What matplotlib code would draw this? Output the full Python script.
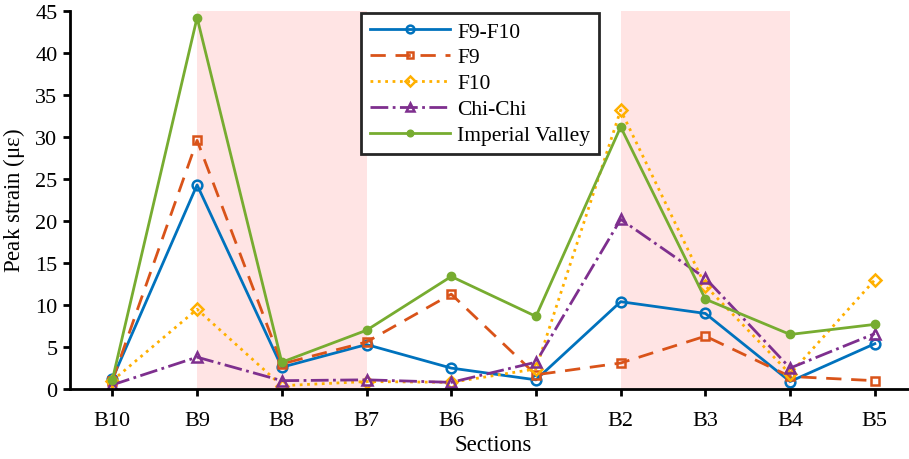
import numpy as np
import matplotlib.pyplot as plt

plt.rcParams['font.family'] = ['Liberation Serif', 'DejaVu Serif']
plt.rcParams['mathtext.fontset'] = 'stix'

# sections along the tunnel
sections = ['B10', 'B9', 'B8', 'B7', 'B6', 'B1', 'B2', 'B3', 'B4', 'B5']

# peak strain for each case
f9_f10 = [1.2, 24.3, 2.6, 5.3, 2.5, 1.1, 10.4, 9.0, 0.9, 5.4]
f9 = [1.0, 29.6, 3.0, 5.6, 11.3, 1.7, 3.1, 6.3, 1.5, 1.0]
f10 = [1.0, 9.5, 0.4, 0.9, 0.8, 2.4, 33.2, 12.3, 1.8, 13.0]
chichi = [0.5, 3.8, 1.0, 1.1, 0.8, 3.2, 20.2, 13.2, 2.5, 6.6]
imperial = [1.1, 44.2, 3.2, 7.0, 13.4, 8.65, 31.2, 10.7, 6.5, 7.7]

# shaded ranges (by section index)
shade = [(1, 3), (6, 8)]

x = np.arange(len(sections))

fig = plt.figure(figsize=(9.09, 4.6), dpi=100)
ax = fig.add_axes([0.077, 0.152, 0.932, 0.822])

for a, b in shade:
    ax.axvspan(a, b, color='#FFE4E4', lw=0, zorder=0)

lw = 2.0
ax.plot(x, f9_f10, '-', marker='o', color='#0072BD', lw=lw, ms=7, mfc='none', mew=1.8, label='F9-F10')
ax.plot(x, f9, '--', marker='s', color='#D95319', lw=lw, ms=5.5, mfc='none', mew=1.8, label='F9', dashes=(5.5, 3.5))
ax.plot(x, f10, ':', marker='D', color='#FFB000', lw=lw, ms=6, mfc='none', mew=1.8, label='F10')
ax.plot(x, chichi, '-.', marker='^', color='#7E2F8E', lw=lw, ms=7, mfc='none', mew=1.8, label='Chi-Chi')
ax.plot(x, imperial, '-', marker='o', color='#77AC30', lw=lw, ms=6, label='Imperial Valley')

ax.set_xlim(-0.5, 9.5)
ax.set_ylim(0, 45)
ax.set_yticks(np.arange(0, 46, 5))
ax.set_xticks(x)
ax.set_xticklabels(sections)
ax.tick_params(direction='out', length=5, width=2, labelsize=16)
ax.tick_params(axis='x', pad=11)
ax.tick_params(axis='y', pad=4)
ax.spines['top'].set_visible(False)
ax.spines['right'].set_visible(False)
ax.spines['left'].set_linewidth(2)
ax.spines['bottom'].set_linewidth(2)
ax.set_xlabel('Sections', fontsize=16.5, labelpad=3)
ax.set_ylabel('Peak strain ($\\mathregular{\\mu\\varepsilon}$)', fontsize=16.5, labelpad=6)

leg = ax.legend(loc='upper left', bbox_to_anchor=(0.344, 0.995), fontsize=15.5, fancybox=False,
                edgecolor='#262626', framealpha=1, handlelength=3.7, handletextpad=0.35,
                borderpad=0.4, labelspacing=0.27, markerscale=0.8, borderaxespad=0)
leg.get_frame().set_linewidth(2)

fig.savefig('out.png', dpi=100)
